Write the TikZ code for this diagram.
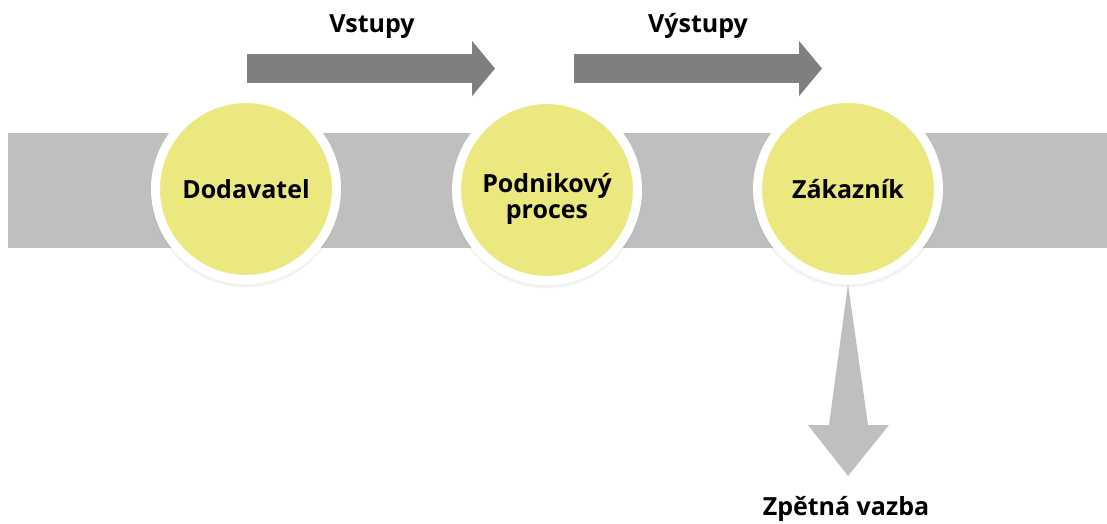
\documentclass[tikz,border=0pt]{standalone}
\usepackage{fontspec}
\setmainfont{Open Sans}
\usetikzlibrary{arrows.meta,shadows}
\definecolor{bandgray}{RGB}{191,191,191}
\definecolor{flowgray}{RGB}{127,127,127}
\definecolor{stageyellow}{RGB}{235,232,128}
\tikzset{
  stage/.style={circle,fill=stageyellow,draw=white,line width=9pt,minimum size=181pt,
    inner sep=0pt,align=center,font=\fontsize{25}{26}\selectfont\bfseries,
    drop shadow={shadow xshift=0pt,shadow yshift=-3pt,shadow scale=1.05,opacity=0.10}},
  flow/.style={draw=flowgray,line width=29pt,-{Triangle[length=23pt,width=54pt]}},
  caption/.style={font=\fontsize{25}{26}\selectfont\bfseries,anchor=base,inner sep=0pt}
}
\begin{document}
\begin{tikzpicture}[x=1pt,y=-1pt]
\useasboundingbox (0,0) rectangle (1107,524);
\fill[bandgray] (8,133) rectangle (1107,248);

% the two block arrows on top
\coordinate (in-a) at (247,68.5);
\coordinate (in-b) at (495,68.5);
\coordinate (out-a) at (574,68.5);
\coordinate (out-b) at (822,68.5);
\draw[flow] (in-a) -- (in-b);
\draw[flow] (out-a) -- (out-b);
\node[caption] (vst) at (372,33) {Vstupy};
\node[caption] (vyst) at (698,33) {Výstupy};

% we place the circles once
\path node[stage] (dod) at (246,189) {Dodavatel}
      node[stage,text height=57pt,text depth=0pt] (proc) at (547,190) {Podnikový\\proces}
      node[stage] (zak) at (848,189) {Zákazník};

% feedback arrow
\fill[bandgray] (zak.south) -- ++(20,141) -- ++(21,0) -- ++(-41,51)
   coordinate (fb) -- ++(-40,-51) -- ++(21,0) -- cycle;
\node[caption] (zpet) at (846,515) {Zpětná vazba};
\end{tikzpicture}
\end{document}
